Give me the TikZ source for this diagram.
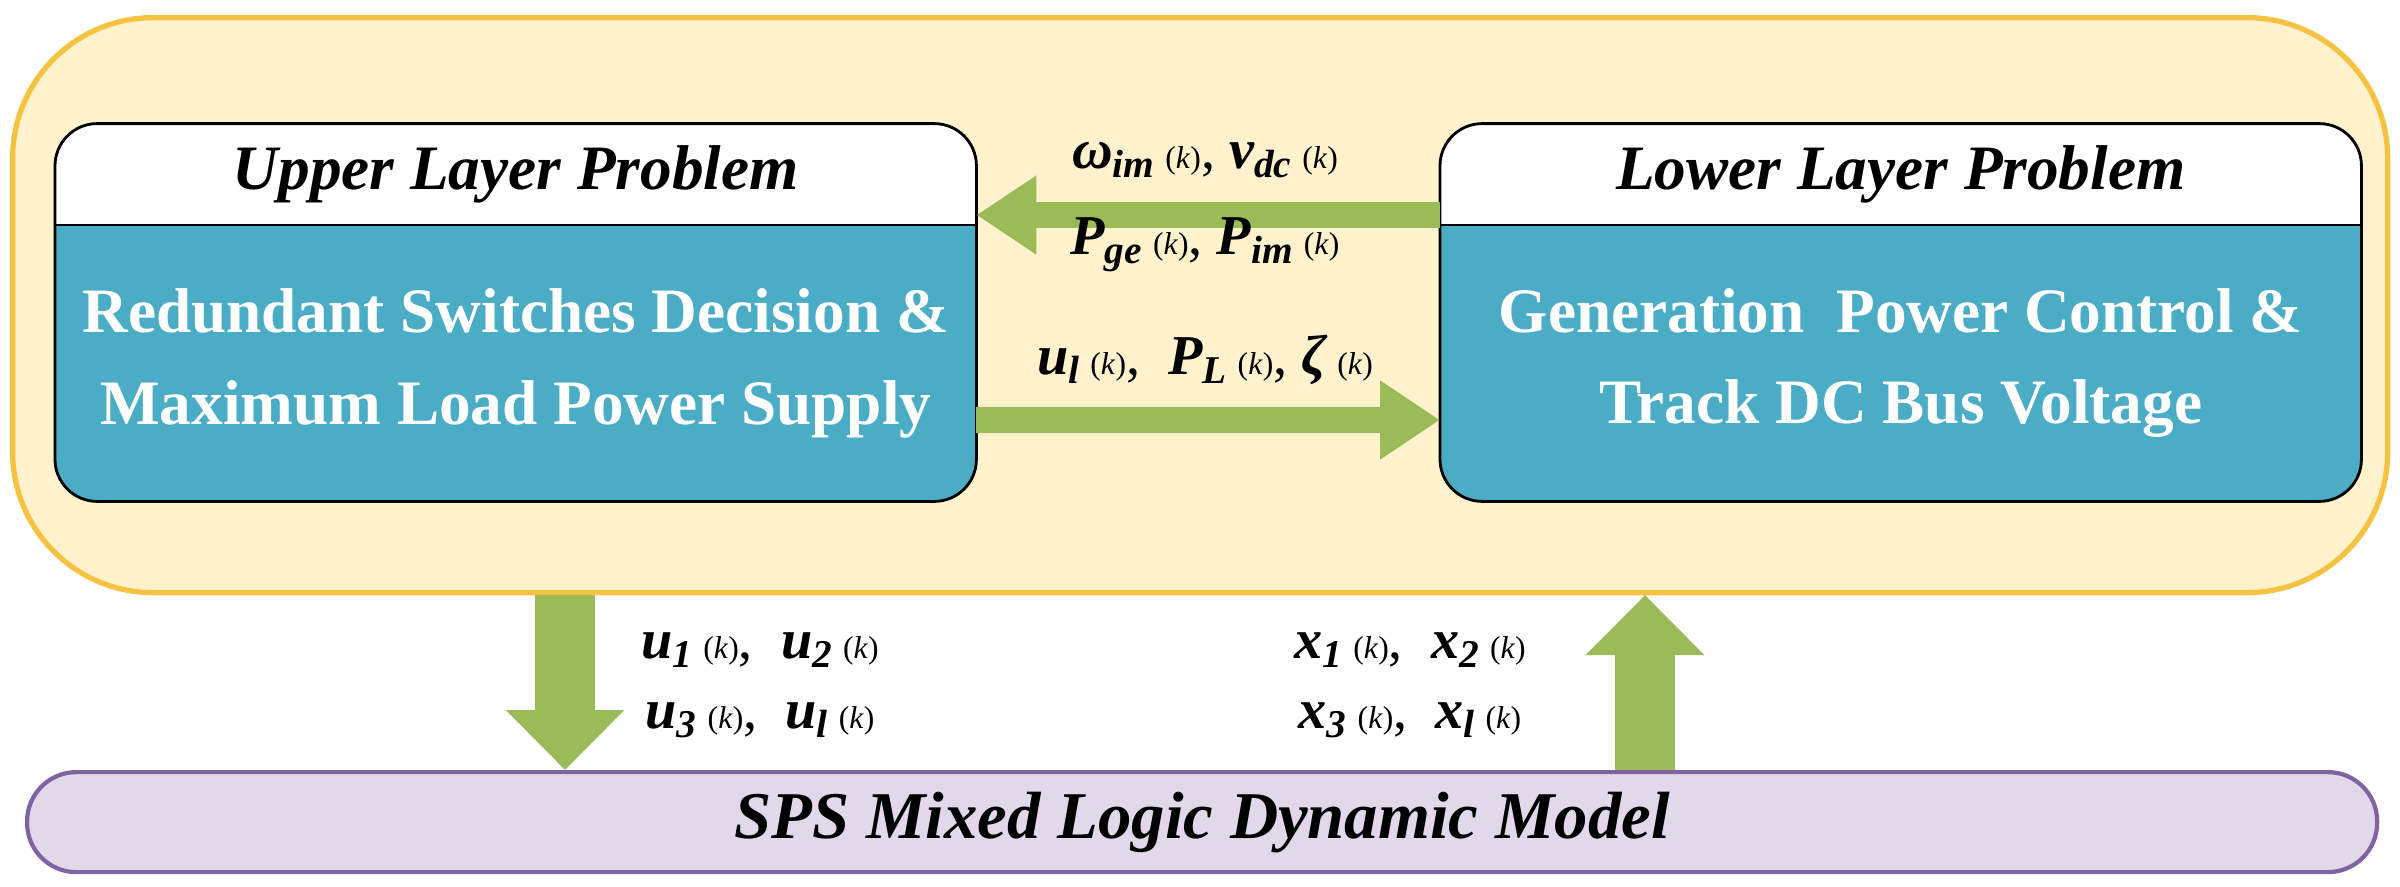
\documentclass[tikz,border=0pt]{standalone}
\usepackage{fontspec}
\setmainfont{Liberation Serif}
\usetikzlibrary{arrows.meta,positioning}
\definecolor{ybg}{HTML}{FFF2CC}
\definecolor{yline}{HTML}{F5C242}
\definecolor{teal}{HTML}{4BACC6}
\definecolor{agreen}{HTML}{9BBB59}
\definecolor{pbg}{HTML}{E1D9EA}
\definecolor{pline}{HTML}{8064A2}
\tikzstyle{head}=[inner sep=0pt, minimum width=9.2cm, minimum height=1cm, font=\fontsize{18}{22}\selectfont\bfseries\itshape]
\tikzstyle{body}=[inner sep=0pt, minimum width=9.2cm, minimum height=2.75cm, text=white, align=center, font=\fontsize{18}{26}\selectfont\bfseries]
\tikzstyle{harrow}=[agreen, line width=2.6mm, -{Triangle[length=6mm,width=7.5mm]}]
\tikzstyle{varrow}=[agreen, line width=6mm, -{Triangle[length=6mm,width=11.5mm]}]
\tikzstyle{lbl}=[font=\fontsize{16}{20}\selectfont]
\newcommand{\sv}[2]{{\bfseries\itshape #1}\textsubscript{\bfseries\itshape #2}\,{\small(\textit{k})}}
\newcommand{\layerbox}[2]{%
  \fill[white] (#1.north west) {[rounded corners=12pt] -- (#2.north west) -- (#2.north east)} -- (#1.north east) -- cycle;
  \fill[teal] (#1.north west) {[rounded corners=12pt] -- (#1.south west) -- (#1.south east)} -- (#1.north east) -- cycle;
  \draw[thick, rounded corners=12pt] (#1.north west) |- (#2.north east) -- (#1.south east) -| cycle;
  \draw[thick] (#1.north west) -- (#1.north east);}

\begin{document}
\begin{tikzpicture}
\useasboundingbox (0,0) rectangle (24,-8.86);

\node[draw=yline, fill=ybg, line width=1.5pt, rounded corners=40pt, minimum width=23.75cm, minimum height=5.75cm, anchor=north west] (outer) at (0.1,-0.15) {};

% upper layer
\node[body, anchor=north west] (ub) at (0.55,-2.25) {};
\node[head, anchor=south] (uh) at (ub.north) {};
\layerbox{ub}{uh}
\node[head] at (uh.center) {Upper Layer Problem};
\node[body] at (ub.center) {Redundant Switches Decision \&\\Maximum Load Power Supply};

% lower layer
\node[body, anchor=north west] (lb) at (14.4,-2.25) {};
\node[head, anchor=south] (lh) at (lb.north) {};
\layerbox{lb}{lh}
\node[head] at (lh.center) {Lower Layer Problem};
\node[body] at (lb.center) {Generation~ Power Control \&\\Track DC Bus Voltage};

% model
\node[draw=pline, fill=pbg, line width=1.2pt, rounded corners=14pt, minimum width=23.5cm, minimum height=1cm, anchor=north west, font=\fontsize{19}{24}\selectfont\bfseries\itshape] (sps) at (0.25,-7.7) {SPS Mixed Logic Dynamic Model};

% arrows between layers
\coordinate (a1) at (lh.west |- 0,-2.15);
\coordinate (a2) at (uh.east |- 0,-2.15);
\draw[harrow] (a1) -- (a2);
\coordinate (b1) at (ub.east |- 0,-4.2);
\coordinate (b2) at (lb.west |- 0,-4.2);
\draw[harrow] (b1) -- (b2);
\node[lbl] at (12.05,-1.6) {\sv{ω}{im}, \sv{v}{dc}};
\node[lbl] at (12.05,-2.45) {\sv{P}{ge}, \sv{P}{im}};
\node[lbl] at (12.05,-3.6) {\sv{u}{l}, ~\sv{P}{L}, \sv{ζ}{}};

% arrows to and from the model
\coordinate (d1) at (5.65,-5.95);
\coordinate (d2) at (sps.north -| d1);
\draw[varrow] (d1) -- (d2);
\coordinate (e1) at (sps.north -| 16.45,0);
\coordinate (e2) at (16.45,-5.95);
\draw[varrow] (e1) -- (e2);
\node[lbl] at (7.6,-6.5) {\sv{u}{1}, ~\sv{u}{2}};
\node[lbl] at (7.6,-7.2) {\sv{u}{3}, ~\sv{u}{l}};
\node[lbl] at (14.1,-6.5) {\sv{x}{1}, ~\sv{x}{2}};
\node[lbl] at (14.1,-7.2) {\sv{x}{3}, ~\sv{x}{l}};
\end{tikzpicture}
\end{document}
